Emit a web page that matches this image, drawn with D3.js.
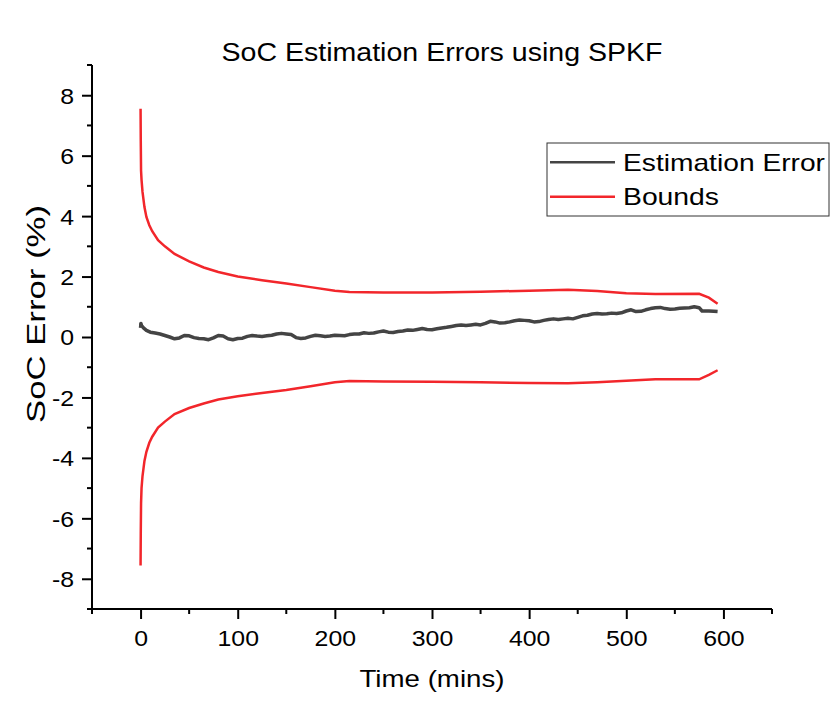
<!DOCTYPE html>
<html><head><meta charset="utf-8">
<script src="https://cdn.jsdelivr.net/npm/d3@7"></script>
<style>body{margin:0;background:#fff}svg{display:block}text{font-family:"Liberation Sans",Arial,sans-serif;fill:#000}</style>
</head><body>
<script>
const boundTimes = [0,0.2,0.5,1,2,4,6,9,12,18,25,35,50,65,80,100,125,150,175,200,215,250,300,350,400,440,470,500,530,575,585,594];
const upperBound = [7.55,6.5,5.5,5.2,4.8,4.3,3.97,3.7,3.5,3.2,3.0,2.75,2.5,2.3,2.15,2.0,1.88,1.77,1.65,1.53,1.49,1.47,1.47,1.5,1.53,1.56,1.52,1.45,1.42,1.43,1.3,1.1];
const lowerBound = [-7.56,-6.5,-5.5,-5.0,-4.6,-4.1,-3.8,-3.5,-3.3,-3.0,-2.8,-2.55,-2.35,-2.2,-2.07,-1.96,-1.85,-1.75,-1.63,-1.5,-1.46,-1.47,-1.48,-1.5,-1.52,-1.53,-1.5,-1.45,-1.4,-1.4,-1.25,-1.1];
const errTimes = [0,0.3,1,3,6,10,15,20,25,30,35,40,45,50,55,60,65,70,75,80,85,90,95,100,105,110,115,120,125,130,135,140,145,150,155,160,165,170,175,180,185,190,195,200,205,210,215,220,225,230,235,240,245,250,255,260,265,270,275,280,285,290,295,300,305,310,315,320,325,330,335,340,345,350,355,360,365,370,375,380,385,390,395,400,405,410,415,420,425,430,435,440,445,450,455,460,465,470,475,480,485,490,495,500,505,510,515,520,525,530,535,540,545,550,555,560,565,570,575,578,585,590,594];
const errValues = [0.3,0.45,0.38,0.3,0.22,0.16,0.13,0.1,0.05,0.0,-0.06,-0.03,0.05,0.04,-0.02,-0.05,-0.06,-0.09,-0.03,0.05,0.03,-0.06,-0.09,-0.05,-0.04,0.02,0.05,0.03,0.02,0.04,0.06,0.1,0.12,0.1,0.08,-0.02,-0.05,-0.03,0.02,0.06,0.04,0.02,0.03,0.06,0.05,0.04,0.08,0.1,0.1,0.14,0.12,0.13,0.17,0.2,0.16,0.15,0.18,0.2,0.23,0.22,0.25,0.28,0.25,0.24,0.27,0.3,0.32,0.35,0.38,0.4,0.38,0.4,0.42,0.4,0.45,0.52,0.5,0.46,0.47,0.5,0.54,0.56,0.55,0.54,0.5,0.51,0.55,0.58,0.6,0.58,0.6,0.62,0.6,0.65,0.7,0.72,0.76,0.78,0.76,0.77,0.79,0.78,0.8,0.86,0.9,0.84,0.85,0.9,0.94,0.97,0.98,0.94,0.92,0.93,0.95,0.96,0.97,1.0,0.97,0.86,0.86,0.85,0.84];
const xTicks = [0,100,200,300,400,500,600];
const yTicks = [-8,-6,-4,-2,0,2,4,6,8];
const seriesNames = ["Estimation Error","Bounds"];
const seriesColors = ["#444444","#f2262b"];

const W=833,H=705, L=92, R=772, T=65, B=609;
const SX=1.13;
const svg=d3.select("body").append("svg").attr("width",W).attr("height",H);
const x=d3.scaleLinear().domain([-50,650]).range([L,R]);
const y=d3.scaleLinear().domain([-9,9]).range([B,T]);

const line=d3.line().x(d=>x(d[0])).y(d=>y(d[1]));
svg.append("path").datum(boundTimes.map((t,i)=>[t,upperBound[i]])).attr("d",line).attr("fill","none").attr("stroke",seriesColors[1]).attr("stroke-width",2.5);
svg.append("path").datum(boundTimes.map((t,i)=>[t,lowerBound[i]])).attr("d",line).attr("fill","none").attr("stroke",seriesColors[1]).attr("stroke-width",2.5);
svg.append("path").datum(errTimes.map((t,i)=>[t,errValues[i]])).attr("d",line).attr("fill","none").attr("stroke",seriesColors[0]).attr("stroke-width",3.5).attr("stroke-linejoin","round");

// axes
const xMinor=d3.range(-50,651,100);
const yMinor=d3.range(-9,9.1,2);
const gx=svg.append("g").attr("transform",`translate(0,${B})`);
gx.call(d3.axisBottom(x).tickValues(xTicks).tickSize(10).tickPadding(8).tickFormat(d=>String(d)));
gx.selectAll(".minor").data(xMinor).enter().append("line").attr("x1",d=>x(d)).attr("x2",d=>x(d)).attr("y1",0).attr("y2",5).attr("stroke","#000").attr("stroke-width",2);
const gy=svg.append("g").attr("transform",`translate(${L},0)`);
gy.call(d3.axisLeft(y).tickValues(yTicks).tickSize(10).tickPadding(6).tickFormat(d=>String(d)));
gy.selectAll(".minor").data(yMinor).enter().append("line").attr("x1",0).attr("x2",-5).attr("y1",d=>y(d)).attr("y2",d=>y(d)).attr("stroke","#000").attr("stroke-width",2);
[gx,gy].forEach(g=>{
  g.select(".domain").attr("stroke","#000").attr("stroke-width",2).attr("d", g===gx?`M${L},0H${R}`:`M0,${T}V${B}`);
  g.selectAll(".tick line").attr("stroke","#000").attr("stroke-width",2);
  g.selectAll(".tick text").style("font-size","22px").style("font-family","'Liberation Sans',Arial,sans-serif").attr("fill","#000");
});
gx.selectAll(".tick text").attr("y",0).attr("dy",0).attr("transform",`translate(0,37) scale(${SX},1)`);
gy.selectAll(".tick text").attr("x",0).attr("dy","0.36em").attr("transform",`translate(-18,0) scale(${SX},1)`);

svg.append("text").attr("x",442).attr("y",61).attr("text-anchor","middle").style("font-size","25px")
  .attr("textLength",441).attr("lengthAdjust","spacingAndGlyphs").text("SoC Estimation Errors using SPKF");
svg.append("text").attr("x",432).attr("y",687).attr("text-anchor","middle").style("font-size","24.5px")
  .attr("textLength",145).attr("lengthAdjust","spacingAndGlyphs").text("Time (mins)");
svg.append("text").attr("transform",`translate(45,314) rotate(-90)`).attr("text-anchor","middle").style("font-size","25px")
  .attr("textLength",218).attr("lengthAdjust","spacingAndGlyphs").text("SoC Error (%)");

// legend
const lg=svg.append("g");
lg.append("rect").attr("x",547).attr("y",143).attr("width",282).attr("height",73).attr("fill","#fff").attr("stroke","#333").attr("stroke-width",1);
const legendTextLen=[202,96];
seriesNames.forEach((n,i)=>{
  const yy=162.3+i*34.5;
  lg.append("line").attr("x1",550).attr("x2",615).attr("y1",yy).attr("y2",yy).attr("stroke",seriesColors[i]).attr("stroke-width",2.5);
  lg.append("text").attr("x",623).attr("y",yy+8.5).style("font-size","24px")
    .attr("textLength",legendTextLen[i]).attr("lengthAdjust","spacingAndGlyphs").text(n);
});
</script>
</body></html>
